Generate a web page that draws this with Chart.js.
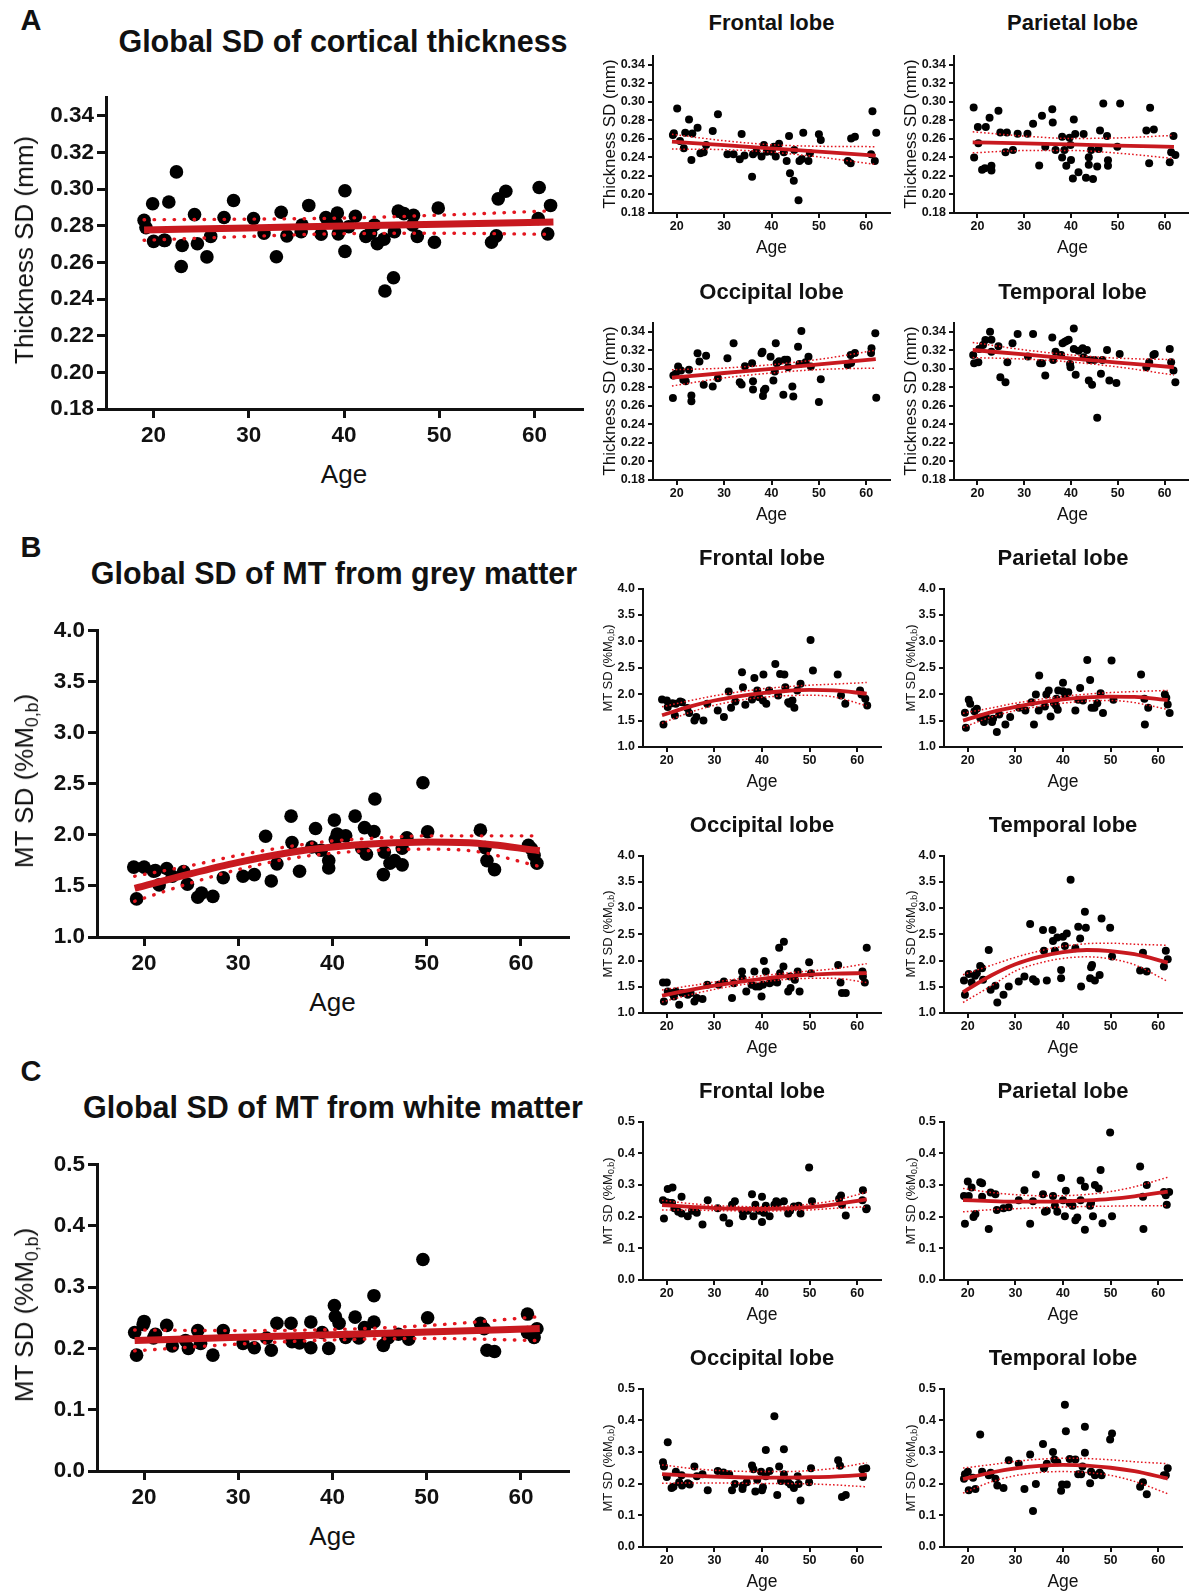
<!DOCTYPE html>
<html><head><meta charset="utf-8">
<script src="https://cdn.jsdelivr.net/npm/chart.js@4.4.1/dist/chart.umd.min.js"></script>
<style>
html,body{margin:0;padding:0;background:#fff;overflow:hidden;}
#wrap{position:relative;width:1192px;height:1594px;font-family:"Liberation Sans",Arial,sans-serif;color:#111;overflow:hidden;}
.t{position:absolute;white-space:nowrap;transform:translate(-50%,-50%);line-height:1;}
.yt{position:absolute;white-space:nowrap;transform:translate(-50%,-50%) rotate(-90deg);line-height:1;}
canvas{position:absolute;}
sub{font-size:68%;vertical-align:-0.3em;line-height:0;}
</style></head><body><div id="wrap"></div>
<script>
// ---------- tick labels ----------
const X_TICKS = [20, 30, 40, 50, 60];
const A_YTICKS = [0.18, 0.20, 0.22, 0.24, 0.26, 0.28, 0.30, 0.32, 0.34];
const B_YTICKS = [1.0, 1.5, 2.0, 2.5, 3.0, 3.5, 4.0];
const C_YTICKS = [0.0, 0.1, 0.2, 0.3, 0.4, 0.5];
const FIT5 = [19, 30, 40, 50, 62];
const FIT9 = [19, 25, 30, 35, 40, 45, 50, 55, 62];

// ---------- A: cortical thickness SD ----------
const A_GLOBAL_AGE = [19.0,19.2,19.9,20.0,21.1,21.2,21.6,22.4,23.0,22.9,24.3,24.6,26.0,25.6,27.4,28.4,30.5,31.6,32.9,33.4,34.0,35.6,35.5,36.3,37.6,38.1,39.3,39.4,39.2,40.1,40.1,40.5,41.2,42.3,43.2,42.8,43.5,44.2,44.3,45.2,45.3,45.7,46.3,47.3,47.2,47.7,49.5,49.9,55.5,56.0,56.2,57.0,60.4,60.5,61.4,61.7];
const A_GLOBAL_SD = [0.283,0.279,0.292,0.2715,0.272,0.272,0.293,0.3094,0.2692,0.2578,0.2861,0.2702,0.2742,0.263,0.2845,0.2938,0.284,0.276,0.2631,0.2874,0.2745,0.2804,0.2768,0.2911,0.2754,0.2845,0.287,0.2756,0.2813,0.2991,0.266,0.2795,0.2852,0.2742,0.2804,0.276,0.2702,0.2727,0.2444,0.2516,0.2768,0.288,0.2866,0.2857,0.2804,0.2742,0.271,0.2897,0.271,0.2745,0.2947,0.2988,0.284,0.3009,0.2756,0.2911];
const A_GLOBAL_FIT = [0.2777,0.2788,0.2799,0.2808,0.2820];
const A_GLOBAL_UP  = [0.2833,0.2836,0.2842,0.2858,0.2882];
const A_GLOBAL_LO  = [0.2721,0.2742,0.2757,0.2759,0.2753];

const A_FRONTAL_AGE = [19.2,19.4,20.1,20.7,21.5,21.8,22.6,23.1,23.3,24.4,25.0,25.7,26.2,27.6,28.7,30.7,32.0,33.3,33.7,34.3,35.9,36.1,36.8,37.9,38.4,39.0,40.1,40.5,40.9,41.6,42.6,43.2,43.7,43.9,44.7,44.8,45.7,45.9,46.7,46.4,47.8,48.1,50.0,50.4,56.1,56.7,56.8,57.6,61.0,61.3,61.8,62.1];
const A_FRONTAL_SD = [0.2641,0.266,0.2928,0.2577,0.2498,0.2667,0.281,0.2373,0.2659,0.272,0.2445,0.2456,0.2534,0.2684,0.2867,0.2434,0.2434,0.238,0.2652,0.242,0.219,0.2434,0.2462,0.2409,0.2534,0.2462,0.2462,0.2516,0.2409,0.2548,0.2455,0.2362,0.2631,0.223,0.2148,0.248,0.1937,0.2362,0.2667,0.2384,0.2362,0.2445,0.2649,0.2588,0.2362,0.2337,0.2605,0.2623,0.2434,0.2899,0.2362,0.2667];
const A_FRONTAL_FIT = [0.2570,0.2532,0.2497,0.2462,0.2420];
const A_FRONTAL_UP  = [0.2650,0.2580,0.2537,0.2520,0.2516];
const A_FRONTAL_LO  = [0.2490,0.2484,0.2457,0.2405,0.2324];

const A_PARIETAL_AGE = [19.2,19.3,20.1,20.2,21.0,21.6,21.8,22.6,23.0,23.0,24.5,24.9,26.0,26.3,27.6,28.6,30.7,31.9,33.2,33.8,34.5,36.0,36.1,36.7,38.1,38.1,38.6,39.0,39.7,39.9,40.0,40.4,40.6,40.9,41.6,42.7,43.2,43.8,43.8,44.3,44.7,45.6,45.9,46.2,46.9,47.7,47.9,47.9,49.9,50.5,56.1,56.7,56.9,57.7,61.1,61.4,61.9,62.3];
const A_PARIETAL_SD = [0.2938,0.2398,0.2727,0.2552,0.2266,0.2284,0.2727,0.2828,0.2309,0.2259,0.2903,0.267,0.2456,0.267,0.2481,0.2656,0.2656,0.2763,0.2312,0.2849,0.2516,0.2921,0.2777,0.2481,0.2623,0.2398,0.2481,0.2309,0.2613,0.2534,0.2373,0.2173,0.281,0.2652,0.2241,0.2652,0.218,0.2402,0.232,0.2481,0.2166,0.2302,0.2491,0.2691,0.2981,0.2631,0.237,0.2309,0.2516,0.2981,0.2691,0.2337,0.2935,0.2702,0.2348,0.2456,0.2631,0.2427];
const A_PARIETAL_FIT = [0.2563,0.2552,0.2540,0.2528,0.2513];
const A_PARIETAL_UP  = [0.2677,0.2630,0.2605,0.2610,0.2638];
const A_PARIETAL_LO  = [0.2449,0.2474,0.2475,0.2446,0.2388];

const A_OCCIPITAL_AGE = [19.2,19.3,19.8,20.3,20.9,21.4,21.9,22.6,23.1,23.1,24.4,24.8,25.7,26.2,27.6,28.7,30.7,32.0,33.3,33.7,34.4,35.9,36.1,36.1,37.9,38.1,38.2,38.4,38.7,39.8,40.4,40.7,40.9,41.1,41.6,42.5,42.8,43.3,43.5,44.4,44.6,45.6,45.9,46.3,47.2,47.8,48.3,50.0,50.4,56.1,56.7,56.8,57.6,61.0,61.1,61.9,62.1];
const A_OCCIPITAL_SD = [0.2684,0.2928,0.2946,0.3024,0.2981,0.2881,0.2866,0.2989,0.2713,0.2649,0.3167,0.3078,0.2828,0.3142,0.281,0.2899,0.3114,0.3275,0.2856,0.2831,0.3028,0.306,0.2867,0.2778,0.3167,0.3185,0.2706,0.2767,0.2785,0.3131,0.2874,0.2971,0.3275,0.306,0.3081,0.272,0.3099,0.3099,0.3017,0.281,0.2702,0.3239,0.3053,0.3409,0.307,0.3131,0.3024,0.2642,0.2888,0.3042,0.315,0.3063,0.3171,0.3171,0.3221,0.3385,0.2688];
const A_OCCIPITAL_FIT = [0.2905,0.2955,0.3000,0.3047,0.3105];
const A_OCCIPITAL_UP  = [0.2990,0.3008,0.3045,0.3102,0.3200];
const A_OCCIPITAL_LO  = [0.2815,0.2902,0.2955,0.2992,0.3008];

const A_TEMPORAL_AGE = [19.1,19.3,20.2,20.4,21.2,21.7,22.7,23.0,23.0,24.5,24.9,26.0,26.4,27.5,28.6,30.8,31.9,33.4,33.8,34.5,36.0,36.2,36.7,37.9,38.2,38.7,39.1,39.5,39.8,39.9,40.6,40.6,41.0,41.6,42.5,42.7,43.4,43.8,44.0,44.5,45.0,45.6,46.4,46.7,47.7,48.2,49.7,50.4,56.1,56.7,57.6,57.9,61.1,61.4,61.9,62.3];
const A_TEMPORAL_SD = [0.315,0.306,0.307,0.3214,0.3257,0.3311,0.34,0.3314,0.3185,0.3243,0.291,0.2856,0.3071,0.3275,0.3375,0.3132,0.3375,0.306,0.306,0.2928,0.3339,0.3096,0.3185,0.315,0.3275,0.3293,0.3303,0.3314,0.3053,0.3017,0.3436,0.3214,0.2935,0.3196,0.3221,0.3124,0.3203,0.2874,0.3096,0.2828,0.3096,0.2473,0.2946,0.3096,0.3203,0.2874,0.2846,0.316,0.3017,0.3071,0.315,0.316,0.3214,0.3071,0.2981,0.2856];
const A_TEMPORAL_FIT = [0.3203,0.3155,0.3112,0.3068,0.3017];
const A_TEMPORAL_UP  = [0.3285,0.3205,0.3150,0.3115,0.3100];
const A_TEMPORAL_LO  = [0.3121,0.3105,0.3074,0.3020,0.2933];

// ---------- B: MT SD, grey matter ----------
const B_GLOBAL_AGE = [18.9,19.2,20.0,21.0,21.6,21.2,22.4,23.0,24.2,24.6,25.7,26.1,27.3,28.4,30.5,31.7,32.9,33.5,34.1,35.6,35.7,36.5,37.8,38.2,38.8,39.6,39.6,40.2,40.5,40.3,41.4,42.4,43.4,44.4,44.5,43.1,43.6,45.5,45.4,46.1,46.6,47.4,47.4,47.9,49.6,50.1,55.7,56.2,56.4,57.2,60.8,61.1,61.4,61.7];
const B_GLOBAL_SD = [1.684,1.373,1.684,1.643,1.51,1.65,1.67,1.595,1.64,1.516,1.389,1.43,1.398,1.58,1.595,1.611,1.986,1.548,1.716,2.183,1.924,1.643,1.881,2.062,1.849,1.748,1.675,2.144,2.008,1.954,1.99,2.183,2.071,2.033,2.351,1.87,1.81,1.83,1.611,1.722,1.748,1.706,1.87,1.97,2.51,2.03,2.046,1.875,1.748,1.659,1.897,1.865,1.80,1.722];
const B_GLOBAL_FIT = [1.475,1.62,1.73,1.82,1.88,1.915,1.93,1.92,1.845];
const B_GLOBAL_UP  = [1.595,1.70,1.80,1.88,1.94,1.97,1.99,1.99,1.99];
const B_GLOBAL_LO  = [1.35,1.53,1.66,1.76,1.82,1.85,1.86,1.84,1.69];

const B_FRONTAL_AGE = [19.0,19.3,20.0,20.2,21.2,21.7,21.9,22.8,23.2,24.3,24.7,25.8,26.2,27.7,28.5,30.7,32.0,33.0,33.5,34.4,35.8,36.0,36.5,37.9,38.4,39.0,39.4,40.2,40.3,40.9,41.5,42.8,43.4,43.8,44.7,44.9,45.5,45.8,46.4,46.8,47.4,48.1,50.2,50.7,55.9,56.6,57.5,60.6,60.9,61.7,62.1];
const B_FRONTAL_SD = [1.899,1.428,1.88,1.755,1.83,1.597,1.818,1.862,1.849,1.736,1.642,1.503,1.566,1.503,1.818,1.692,1.566,2.05,1.742,1.862,2.415,2.132,1.799,1.899,2.308,2.069,1.943,1.88,2.371,1.818,2.069,2.572,1.975,2.384,2.371,2.132,1.849,1.818,1.88,1.742,2.069,2.195,3.025,2.447,2.371,1.975,1.818,2.069,1.994,1.912,1.786];
const B_FRONTAL_FIT = [1.60,1.77,1.88,1.96,2.02,2.06,2.08,2.07,2.01];
const B_FRONTAL_UP  = [1.76,1.88,1.97,2.04,2.10,2.14,2.17,2.19,2.22];
const B_FRONTAL_LO  = [1.45,1.66,1.79,1.88,1.94,1.97,1.98,1.95,1.78];

const B_PARIETAL_AGE = [19.4,19.6,20.2,20.5,21.4,21.9,22.6,23.4,23.8,25.1,25.3,26.1,26.6,27.9,28.9,30.8,32.1,33.4,33.9,35.0,34.3,34.9,36.2,36.5,37.0,37.4,38.1,38.5,38.6,39.0,38.9,40.0,40.0,40.5,41.1,42.6,43.2,43.6,44.2,45.1,45.7,46.0,46.6,47.2,47.9,48.4,50.2,50.6,56.4,57.1,57.2,57.9,61.4,61.7,62.0,62.4];
const B_PARIETAL_SD = [1.648,1.365,1.893,1.818,1.679,1.723,1.553,1.472,1.566,1.472,1.535,1.283,1.616,1.428,1.566,1.742,1.692,1.849,1.428,2.352,1.994,1.692,1.767,1.994,2.069,1.579,1.83,1.786,1.912,2.069,1.704,2.214,2.057,1.975,2.038,1.692,1.893,2.119,1.88,2.648,2.27,1.742,1.742,1.83,2.019,1.642,2.635,1.893,2.371,1.912,1.428,1.742,1.994,1.931,1.805,1.642];
const B_PARIETAL_FIT = [1.50,1.66,1.76,1.84,1.90,1.94,1.955,1.95,1.89];
const B_PARIETAL_UP  = [1.64,1.74,1.83,1.90,1.96,2.00,2.03,2.05,2.07];
const B_PARIETAL_LO  = [1.37,1.57,1.69,1.77,1.83,1.87,1.88,1.84,1.71];

const B_OCCIPITAL_AGE = [19.2,19.4,20.0,20.2,21.0,21.5,21.9,22.6,23.2,24.4,25.0,25.8,26.3,27.5,28.5,30.9,32.0,33.7,34.1,35.8,35.9,36.7,37.8,38.4,38.7,39.4,39.9,40.2,40.4,40.8,41.6,42.5,43.2,43.6,43.8,44.6,44.5,45.5,45.9,46.0,46.9,47.5,47.9,49.9,50.3,56.0,56.5,56.8,57.6,61.1,61.2,61.6,62.0];
const B_OCCIPITAL_SD = [1.581,1.221,1.581,1.411,1.379,1.316,1.411,1.158,1.379,1.347,1.379,1.221,1.284,1.265,1.537,1.537,1.6,1.284,1.569,1.79,1.663,1.411,1.537,1.79,1.505,1.505,1.316,1.537,1.992,1.79,1.569,1.6,1.581,2.244,1.758,2.358,1.884,1.411,1.695,1.474,1.632,1.79,1.411,1.967,1.758,1.916,1.581,1.379,1.379,1.79,1.695,1.581,2.244];
const B_OCCIPITAL_FIT = [1.33,1.44,1.52,1.59,1.65,1.70,1.73,1.75,1.76];
const B_OCCIPITAL_UP  = [1.44,1.52,1.59,1.65,1.71,1.76,1.80,1.84,1.94];
const B_OCCIPITAL_LO  = [1.21,1.35,1.45,1.53,1.59,1.64,1.66,1.66,1.58];

const B_TEMPORAL_AGE = [19.2,19.4,20.2,20.8,21.5,21.9,22.6,23.0,23.2,24.4,24.8,25.8,26.2,27.5,28.6,30.7,31.9,33.1,33.7,34.3,35.8,36.0,36.6,37.8,37.9,38.3,38.8,39.6,39.6,40.0,40.4,40.8,41.6,42.6,43.2,43.6,43.8,44.6,44.8,45.7,45.9,46.1,46.7,47.7,48.1,49.9,50.3,56.2,56.8,57.6,61.2,61.6,62.0];
const B_TEMPORAL_SD = [1.619,1.347,1.745,1.581,1.708,1.758,1.897,1.853,1.632,2.2,1.442,1.518,1.202,1.347,1.505,1.6,1.695,2.693,1.644,1.6,2.579,2.188,1.619,2.579,2.371,2.188,2.44,1.821,1.663,2.453,2.276,2.516,3.54,2.232,2.642,2.421,1.505,2.927,2.623,1.663,1.872,1.916,1.619,1.726,2.8,2.623,2.074,1.809,2.15,1.79,1.884,2.188,2.023];
const B_TEMPORAL_FIT = [1.40,1.72,1.93,2.07,2.16,2.20,2.18,2.12,1.96];
const B_TEMPORAL_UP  = [1.73,1.91,2.06,2.18,2.27,2.32,2.33,2.31,2.29];
const B_TEMPORAL_LO  = [1.20,1.52,1.80,1.95,2.04,2.07,2.03,1.92,1.60];

// ---------- C: MT SD, white matter ----------
const C_GLOBAL_AGE = [19.0,19.2,20.0,19.9,21.2,21.0,22.4,23.0,24.4,24.7,25.7,26.0,27.3,28.4,30.5,31.7,33.0,33.5,34.1,35.6,35.7,36.5,37.7,37.7,38.9,39.6,40.2,40.3,40.7,41.4,42.4,42.8,43.4,44.4,44.4,45.4,45.9,47.0,48.1,49.6,50.1,55.7,56.1,56.4,57.2,60.7,60.7,61.7,61.4];
const C_GLOBAL_SD = [0.226,0.189,0.244,0.239,0.223,0.217,0.2375,0.204,0.213,0.2,0.229,0.208,0.189,0.229,0.208,0.201,0.217,0.197,0.241,0.241,0.211,0.209,0.201,0.243,0.226,0.2,0.27,0.252,0.241,0.218,0.251,0.217,0.234,0.243,0.286,0.205,0.217,0.223,0.215,0.345,0.25,0.241,0.232,0.197,0.195,0.256,0.226,0.232,0.218];
const C_GLOBAL_FIT = [0.2130,0.2180,0.2223,0.2268,0.2323];
const C_GLOBAL_UP  = [0.2300,0.2290,0.2308,0.2373,0.2518];
const C_GLOBAL_LO  = [0.1960,0.2070,0.2138,0.2163,0.2128];

const C_FRONTAL_AGE = [19.2,19.4,20.0,20.2,20.6,21.2,21.1,21.6,22.4,23.1,23.1,24.4,25.3,26.3,27.5,28.6,30.7,31.9,33.1,33.7,34.3,35.9,36.0,37.0,37.9,38.2,38.6,39.4,40.0,40.0,40.4,40.8,41.6,42.6,43.0,43.4,44.6,45.5,45.9,46.7,47.7,48.1,49.9,50.5,56.2,56.6,56.8,57.6,61.1,61.2,61.9,62.0];
const C_FRONTAL_SD = [0.2516,0.1937,0.245,0.2867,0.2429,0.2921,0.2429,0.2265,0.2155,0.2626,0.21,0.2013,0.2188,0.2122,0.175,0.2516,0.2265,0.1969,0.1794,0.2374,0.2484,0.2188,0.2013,0.2188,0.2702,0.2013,0.2374,0.2188,0.2626,0.1827,0.2122,0.2341,0.2013,0.2374,0.2484,0.2429,0.2484,0.21,0.2188,0.232,0.2341,0.21,0.3545,0.2484,0.256,0.2669,0.2374,0.2035,0.2516,0.2834,0.2232,0.2265];
const C_FRONTAL_FIT = [0.236,0.231,0.227,0.225,0.224,0.226,0.230,0.238,0.254];
const C_FRONTAL_UP  = [0.251,0.241,0.235,0.232,0.231,0.233,0.239,0.250,0.277];
const C_FRONTAL_LO  = [0.221,0.221,0.219,0.218,0.217,0.219,0.221,0.226,0.231];

const C_PARIETAL_AGE = [19.2,19.4,20.0,20.2,20.8,21.2,21.6,22.6,23.0,23.0,24.4,24.8,25.8,26.1,27.5,28.6,30.7,31.9,33.1,33.7,34.3,35.8,36.2,36.6,37.9,38.3,38.8,39.6,40.0,40.4,40.6,41.4,42.0,42.6,43.0,43.7,43.7,44.6,44.6,45.7,45.9,46.3,46.7,47.5,47.9,48.3,49.9,50.3,56.2,56.8,56.9,57.6,61.2,61.6,61.8,62.3];
const C_PARIETAL_SD = [0.2648,0.1772,0.3107,0.2648,0.2921,0.1991,0.2079,0.3085,0.3053,0.2626,0.1608,0.2757,0.2702,0.221,0.2265,0.2298,0.2516,0.2834,0.1772,0.2484,0.3326,0.2702,0.2155,0.2188,0.2648,0.2341,0.2155,0.3217,0.2516,0.2013,0.2812,0.2429,0.2341,0.1882,0.1969,0.314,0.2516,0.2943,0.1586,0.2341,0.2429,0.2013,0.2998,0.2888,0.3468,0.1794,0.465,0.2013,0.3578,0.2626,0.1608,0.2998,0.2779,0.267,0.2374,0.2779];
const C_PARIETAL_FIT = [0.252,0.249,0.247,0.247,0.248,0.251,0.256,0.264,0.279];
const C_PARIETAL_UP  = [0.289,0.276,0.269,0.266,0.266,0.270,0.279,0.294,0.324];
const C_PARIETAL_LO  = [0.215,0.222,0.225,0.228,0.230,0.232,0.233,0.234,0.234];

const C_OCCIPITAL_AGE = [19.2,19.4,20.0,20.2,21.0,21.4,21.9,22.6,23.1,23.2,24.4,24.8,25.8,26.3,27.5,28.6,30.7,31.9,33.1,33.7,34.3,35.9,36.0,36.8,37.9,38.2,38.6,39.0,39.8,40.0,40.2,40.8,40.8,41.6,42.6,43.2,43.6,44.0,44.6,44.6,45.5,46.0,46.7,47.5,47.7,48.1,49.9,50.3,56.0,56.4,56.8,57.6,61.1,61.2,61.9];
const C_OCCIPITAL_SD = [0.267,0.2538,0.221,0.3304,0.186,0.1904,0.2374,0.2046,0.2265,0.1937,0.2013,0.1969,0.2538,0.2232,0.2298,0.1794,0.2396,0.2352,0.2298,0.1794,0.1991,0.1827,0.1937,0.2046,0.2571,0.2451,0.175,0.2123,0.2374,0.1794,0.1882,0.2232,0.3063,0.2396,0.4125,0.1641,0.2538,0.2079,0.3085,0.2298,0.2046,0.1969,0.186,0.2232,0.1991,0.1466,0.2046,0.2484,0.2735,0.256,0.1575,0.1641,0.2451,0.221,0.2484];
const C_OCCIPITAL_FIT = [0.230,0.225,0.222,0.220,0.219,0.219,0.220,0.222,0.228];
const C_OCCIPITAL_UP  = [0.259,0.248,0.242,0.239,0.238,0.238,0.241,0.248,0.266];
const C_OCCIPITAL_LO  = [0.201,0.202,0.202,0.201,0.200,0.200,0.199,0.196,0.190];

const C_TEMPORAL_AGE = [19.2,19.4,20.0,20.2,21.1,21.6,22.6,23.0,24.4,24.8,25.8,26.2,27.5,28.6,30.7,31.9,33.1,33.7,34.3,35.8,36.0,36.6,37.9,38.2,38.8,39.6,39.8,40.4,40.6,40.8,41.4,42.6,43.2,43.8,44.1,44.6,44.6,45.7,45.9,46.7,47.7,48.1,49.9,50.3,56.2,56.8,57.6,61.2,61.6,62.0];
const C_TEMPORAL_SD = [0.2155,0.2298,0.2374,0.1794,0.2188,0.1827,0.3545,0.2374,0.2265,0.2341,0.2155,0.1937,0.186,0.2735,0.2626,0.1827,0.2921,0.1138,0.1991,0.3249,0.2484,0.2626,0.2998,0.2757,0.267,0.1772,0.1969,0.4486,0.3654,0.1969,0.2779,0.2757,0.2298,0.2298,0.2538,0.3796,0.2976,0.2013,0.2374,0.2265,0.2341,0.2265,0.3392,0.3578,0.1904,0.2046,0.1663,0.2265,0.2265,0.2484];
const C_TEMPORAL_FIT = [0.214,0.235,0.248,0.256,0.259,0.257,0.250,0.239,0.216];
const C_TEMPORAL_UP  = [0.249,0.260,0.270,0.277,0.280,0.279,0.275,0.269,0.263];
const C_TEMPORAL_LO  = [0.170,0.206,0.225,0.235,0.238,0.235,0.226,0.207,0.168];

// ---------- text ----------
const PANEL_LETTERS = ["A", "B", "C"];
const MAIN_TITLES = ["Global SD of cortical thickness", "Global SD of MT from grey matter", "Global SD of MT from white matter"];
const LOBE_TITLES = ["Frontal lobe", "Parietal lobe", "Occipital lobe", "Temporal lobe"];
const X_TITLE = "Age";

// ---------- layout ----------
const FONT = '"Liberation Sans", Arial, sans-serif';
const FIT_RED = '#c8191f';
const CI_RED = '#e3161f';
const wrap = document.getElementById('wrap');

function text(str, x, y, size, bold, cls){
  const d = document.createElement('div');
  d.className = cls || 't';
  d.style.left = x + 'px'; d.style.top = y + 'px';
  d.style.fontSize = size + 'px';
  d.style.fontWeight = bold ? 'bold' : 'normal';
  d.innerHTML = str;
  wrap.appendChild(d);
}

function makeChart(p){
  const big = p.big;
  const YW = big ? 72 : 46, XH = big ? 44 : 26, PT = 10;
  const PR = Math.max(1, Math.min(8, 1192 - p.R));
  const cw = Math.round((p.R - p.L) + YW + PR), ch = Math.round((p.B - p.T) + PT + XH);
  const cv = document.createElement('canvas');
  cv.width = cw; cv.height = ch;
  cv.style.left = (p.L - YW) + 'px'; cv.style.top = (p.T - PT) + 'px';
  cv.style.width = cw + 'px'; cv.style.height = ch + 'px';
  wrap.appendChild(cv);
  const n = Math.min(p.ages.length, p.vals.length);
  const pts = []; for (let i = 0; i < n; i++) pts.push({x: p.ages[i], y: p.vals[i]});
  const line = ys => p.fitAges.map((a, i) => ({x: a, y: ys[i]}));
  const ciStyle = big
    ? {borderWidth: 3.4, borderDash: [0.5, 9.5], borderCapStyle: 'round'}
    : {borderWidth: 1.5, borderDash: [1.6, 2.2], borderCapStyle: 'butt'};
  const axisW = big ? 3 : 2;
  const tickFont = {family: FONT, size: big ? 22.5 : 12.5, weight: 'bold'};
  new Chart(cv.getContext('2d'), {
    type: 'scatter',
    data: {datasets: [
      {type: 'line', data: line(p.fit), borderColor: FIT_RED, borderWidth: big ? 7 : 3.8, pointRadius: 0, cubicInterpolationMode: 'monotone', order: 0},
      Object.assign({type: 'line', data: line(p.up), borderColor: CI_RED, pointRadius: 0, cubicInterpolationMode: 'monotone', order: 1}, ciStyle),
      Object.assign({type: 'line', data: line(p.lo), borderColor: CI_RED, pointRadius: 0, cubicInterpolationMode: 'monotone', order: 2}, ciStyle),
      {data: pts, backgroundColor: '#000', borderColor: '#000', borderWidth: 0, pointRadius: big ? 6.8 : 4, order: 5}
    ]},
    options: {
      responsive: false, animation: false, devicePixelRatio: 1, events: [],
      layout: {padding: {left: 0, top: PT, right: PR, bottom: 0}},
      plugins: {legend: {display: false}, tooltip: {enabled: false}},
      scales: {
        x: {
          type: 'linear', min: 15, max: 65,
          afterFit: s => { s.height = XH; },
          afterBuildTicks: s => { s.ticks = X_TICKS.map(v => ({value: v})); },
          border: {display: true, color: '#111', width: axisW},
          grid: {display: true, drawOnChartArea: false, drawTicks: true, tickLength: big ? 9 : 5, color: '#111', lineWidth: axisW},
          ticks: {color: '#111', font: tickFont, padding: big ? 4 : 1, maxRotation: 0, autoSkip: false, callback: v => String(v)}
        },
        y: {
          type: 'linear', min: p.ymin, max: p.ymax,
          afterFit: s => { s.width = YW; },
          afterBuildTicks: s => { s.ticks = p.yTicks.map(v => ({value: v})); },
          border: {display: true, color: '#111', width: axisW},
          grid: {display: true, drawOnChartArea: false, drawTicks: true, tickLength: big ? 9 : 5, color: '#111', lineWidth: axisW},
          ticks: {color: '#111', font: tickFont, padding: big ? 3 : 3, autoSkip: false, callback: v => Number(v).toFixed(p.dec)}
        }
      }
    }
  });
  // x title
  text(X_TITLE, (p.L + p.R) / 2, p.B + (big ? 65 : 35), big ? 26 : 17.5, false);
}

const MT_LABEL = 'MT SD (%M<sub>0,b</sub>)';
const TH_LABEL = 'Thickness SD (mm)';

const A = {ymin: 0.18, ymax: 0.35, yTicks: A_YTICKS, dec: 2, fitAges: FIT5};
const B = {ymin: 1.0, ymax: 4.0, yTicks: B_YTICKS, dec: 1, fitAges: FIT9};
const Cc = {ymin: 0.0, ymax: 0.5, yTicks: C_YTICKS, dec: 1, fitAges: FIT9};

const panels = [
  Object.assign({}, A, {big: true, L: 106, R: 582, T: 91.3, B: 409, ages: A_GLOBAL_AGE, vals: A_GLOBAL_SD, fit: A_GLOBAL_FIT, up: A_GLOBAL_UP, lo: A_GLOBAL_LO}),
  Object.assign({}, A, {L: 653, R: 890, T: 54.7, B: 213, ages: A_FRONTAL_AGE, vals: A_FRONTAL_SD, fit: A_FRONTAL_FIT, up: A_FRONTAL_UP, lo: A_FRONTAL_LO}),
  Object.assign({}, A, {L: 954, R: 1191, T: 54.7, B: 213, ages: A_PARIETAL_AGE, vals: A_PARIETAL_SD, fit: A_PARIETAL_FIT, up: A_PARIETAL_UP, lo: A_PARIETAL_LO}),
  Object.assign({}, A, {L: 653, R: 890, T: 321.7, B: 480, ages: A_OCCIPITAL_AGE, vals: A_OCCIPITAL_SD, fit: A_OCCIPITAL_FIT, up: A_OCCIPITAL_UP, lo: A_OCCIPITAL_LO}),
  Object.assign({}, A, {L: 954, R: 1191, T: 321.7, B: 480, ages: A_TEMPORAL_AGE, vals: A_TEMPORAL_SD, fit: A_TEMPORAL_FIT, up: A_TEMPORAL_UP, lo: A_TEMPORAL_LO}),
  Object.assign({}, B, {big: true, L: 97, R: 568, T: 624, B: 937, ages: B_GLOBAL_AGE, vals: B_GLOBAL_SD, fit: B_GLOBAL_FIT, up: B_GLOBAL_UP, lo: B_GLOBAL_LO}),
  Object.assign({}, B, {L: 643, R: 881, T: 588, B: 747, ages: B_FRONTAL_AGE, vals: B_FRONTAL_SD, fit: B_FRONTAL_FIT, up: B_FRONTAL_UP, lo: B_FRONTAL_LO}),
  Object.assign({}, B, {L: 944, R: 1182, T: 588, B: 747, ages: B_PARIETAL_AGE, vals: B_PARIETAL_SD, fit: B_PARIETAL_FIT, up: B_PARIETAL_UP, lo: B_PARIETAL_LO}),
  Object.assign({}, B, {L: 643, R: 881, T: 855, B: 1013, ages: B_OCCIPITAL_AGE, vals: B_OCCIPITAL_SD, fit: B_OCCIPITAL_FIT, up: B_OCCIPITAL_UP, lo: B_OCCIPITAL_LO}),
  Object.assign({}, B, {L: 944, R: 1182, T: 855, B: 1013, ages: B_TEMPORAL_AGE, vals: B_TEMPORAL_SD, fit: B_TEMPORAL_FIT, up: B_TEMPORAL_UP, lo: B_TEMPORAL_LO}),
  Object.assign({}, Cc, {big: true, fitAges: FIT5, L: 97, R: 568, T: 1158, B: 1471, ages: C_GLOBAL_AGE, vals: C_GLOBAL_SD, fit: C_GLOBAL_FIT, up: C_GLOBAL_UP, lo: C_GLOBAL_LO}),
  Object.assign({}, Cc, {L: 643, R: 881, T: 1121, B: 1280, ages: C_FRONTAL_AGE, vals: C_FRONTAL_SD, fit: C_FRONTAL_FIT, up: C_FRONTAL_UP, lo: C_FRONTAL_LO}),
  Object.assign({}, Cc, {L: 944, R: 1182, T: 1121, B: 1280, ages: C_PARIETAL_AGE, vals: C_PARIETAL_SD, fit: C_PARIETAL_FIT, up: C_PARIETAL_UP, lo: C_PARIETAL_LO}),
  Object.assign({}, Cc, {L: 643, R: 881, T: 1388, B: 1547, ages: C_OCCIPITAL_AGE, vals: C_OCCIPITAL_SD, fit: C_OCCIPITAL_FIT, up: C_OCCIPITAL_UP, lo: C_OCCIPITAL_LO}),
  Object.assign({}, Cc, {L: 944, R: 1182, T: 1388, B: 1547, ages: C_TEMPORAL_AGE, vals: C_TEMPORAL_SD, fit: C_TEMPORAL_FIT, up: C_TEMPORAL_UP, lo: C_TEMPORAL_LO})
];

panels.forEach(makeChart);

// panel letters and main titles
text(PANEL_LETTERS[0], 31, 20, 29, true);
text(PANEL_LETTERS[1], 31, 547, 29, true);
text(PANEL_LETTERS[2], 31, 1071, 29, true);
text(MAIN_TITLES[0], 343, 41, 30.5, true);
text(MAIN_TITLES[1], 334, 573, 30.5, true);
text(MAIN_TITLES[2], 333, 1107, 30.5, true);

// lobe titles
const titleY = [23, 292, 558, 825, 1091, 1358];
for (let r = 0; r < 3; r++) {
  for (let k = 0; k < 4; k++) {
    const p = panels[r * 5 + 1 + k];
    text(LOBE_TITLES[k], (p.L + p.R) / 2, titleY[r * 2 + (k >= 2 ? 1 : 0)], 22, true);
  }
}

// y axis titles
text(TH_LABEL, 24, (91.3 + 409) / 2, 26, false, 'yt');
text(MT_LABEL, 24, (624 + 937) / 2, 26, false, 'yt');
text(MT_LABEL, 24, (1158 + 1471) / 2, 26, false, 'yt');
[1, 2, 3, 4].forEach(k => {
  const p = panels[k];
  text(TH_LABEL, (k % 2 === 1) ? 609 : 910, (p.T + p.B) / 2, 17, false, 'yt');
});
[6, 7, 8, 9, 11, 12, 13, 14].forEach(k => {
  const p = panels[k];
  text(MT_LABEL, (k % 5 === 1 || k % 5 === 3) ? 607 : 910, (p.T + p.B) / 2, 13, false, 'yt');
});
</script>
</body></html>
